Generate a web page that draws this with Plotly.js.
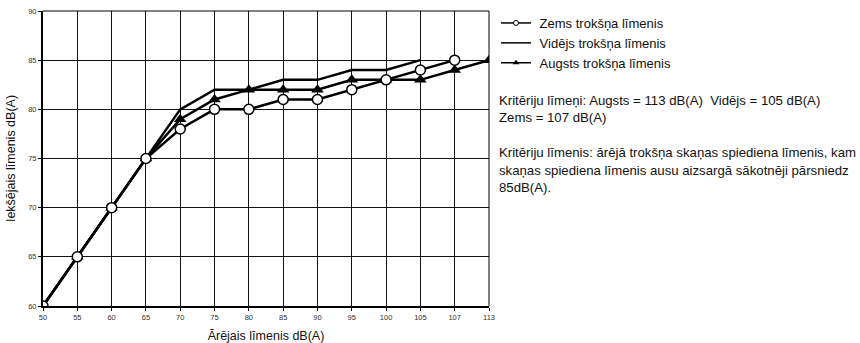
<!DOCTYPE html>
<html>
<head>
<meta charset="utf-8">
<script src="https://cdn.plot.ly/plotly-3.0.1.min.js"></script>
<style>html,body{margin:0;padding:0;background:#fff;}#chart{width:860px;height:343px;}</style>
</head>
<body>
<div id="chart"></div>
<script>
const categories = ["50","55","60","65","70","75","80","85","90","95","100","105","107","113"];
const zemsX = ["50","55","60","65","70","75","80","85","90","95","100","105","107"];
const zemsY = [60,65,70,75,78,80,80,81,81,82,83,84,85];
const vidX = ["50","55","60","65","70","75","80","85","90","95","100","105"];
const vidY = [60,65,70,75,80,82,82,83,83,84,84,85];
const augX = ["50","55","60","65","70","75","80","85","90","95","100","105","107","113"];
const augY = [60,65,70,75,79,81,82,82,82,83,83,83,84,85];
const names = ["Zems trokšņa līmenis","Vidējs trokšņa līmenis","Augsts trokšņa līmenis"];
const yTicks = [60,65,70,75,80,85,90];
const noteLines = [
  "Kritēriju līmeņi: Augsts = 113 dB(A)\u00a0\u00a0Vidējs = 105 dB(A)",
  "Zems = 107 dB(A)",
  "",
  "Kritēriju līmenis: ārējā trokšņa skaņas spiediena līmenis, kam",
  "skaņas spiediena līmenis ausu aizsargā sākotnēji pārsniedz",
  "85dB(A)."
];
const FONT = "Liberation Sans, Arial, Helvetica, sans-serif";

const traces = [
  {x: vidX, y: vidY, name: names[1], mode: "lines", line: {color: "#000", width: 2.5}, showlegend: false},
  {x: augX, y: augY, name: names[2], mode: "lines+markers", line: {color: "#000", width: 2.5},
   marker: {symbol: "triangle-up", size: 11, color: "#000"}, showlegend: false},
  {x: zemsX, y: zemsY, name: names[0], mode: "lines+markers", line: {color: "#000", width: 2.5},
   marker: {symbol: "circle", size: 10, color: "#fff", line: {color: "#000", width: 1.5}}, showlegend: false},
  // legend-only entries (smaller symbols, as in the reference legend)
  {x: [null], y: [null], name: "\u00a0" + names[0], mode: "lines+markers", line: {color: "#000", width: 1.5},
   marker: {symbol: "circle", size: 5, color: "#fff", line: {color: "#000", width: 1}}, legendrank: 1},
  {x: [null], y: [null], name: "\u00a0" + names[1], mode: "lines", line: {color: "#000", width: 1.5}, legendrank: 2},
  {x: [null], y: [null], name: "\u00a0" + names[2], mode: "lines+markers", line: {color: "#000", width: 1.5},
   marker: {symbol: "triangle-up", size: 6, color: "#000"}, legendrank: 3}
];

const annotations = [];
const noteY = [100, 117, 0, 152, 170, 187];
noteLines.forEach((t, i) => {
  if (!t) return;
  annotations.push({text: t, xref: "paper", yref: "paper", x: (497 - 43) / 446, y: 1 - (noteY[i] - 11) / 295,
    xanchor: "left", yanchor: "middle", showarrow: false, font: {family: FONT, size: 13.2, color: "#111"}});
});

const layout = {
  width: 860, height: 343,
  margin: {l: 43, r: 371, t: 11, b: 37, autoexpand: false},
  paper_bgcolor: "#fff", plot_bgcolor: "#fff",
  font: {family: FONT, color: "#111"},
  showlegend: true,
  legend: {x: (496 - 43) / 446, y: 1 - (8 - 11) / 295, xanchor: "left", yanchor: "top",
    font: {family: FONT, size: 13, color: "#111"}, itemwidth: 30, tracegroupgap: 0,
    bgcolor: "rgba(0,0,0,0)", traceorder: "normal"},
  xaxis: {type: "category", categoryorder: "array", categoryarray: categories, range: [0, categories.length - 1],
    showgrid: true, gridcolor: "#111", gridwidth: 1, showline: true, linecolor: "#000", linewidth: 2,
    ticks: "outside", ticklen: 3, tickcolor: "#000", tickfont: {family: FONT, size: 7.5, color: "#333"},
    zeroline: false, fixedrange: true,
    title: {text: "Ārējais līmenis dB(A)", font: {family: FONT, size: 12.5, color: "#111"}, standoff: 11}},
  yaxis: {range: [60, 90], tickvals: yTicks, showgrid: true, gridcolor: "#111", gridwidth: 1,
    showline: true, linecolor: "#000", linewidth: 2, ticks: "outside", ticklen: 3, tickcolor: "#000",
    tickfont: {family: FONT, size: 7.5, color: "#333"}, zeroline: false,
    title: {text: "Iekšējais līmenis dB(A)", font: {family: FONT, size: 12.5, color: "#111"}, standoff: 10}},
  shapes: [
    {type: "line", xref: "paper", yref: "paper", x0: 0, x1: 1, y0: 1, y1: 1, line: {color: "#000", width: 1}},
    {type: "line", xref: "paper", yref: "paper", x0: 1, x1: 1, y0: 0, y1: 1, line: {color: "#000", width: 1}}
  ],
  annotations: annotations
};

Plotly.newPlot("chart", traces, layout, {displayModeBar: false, staticPlot: true});
</script>
</body>
</html>
